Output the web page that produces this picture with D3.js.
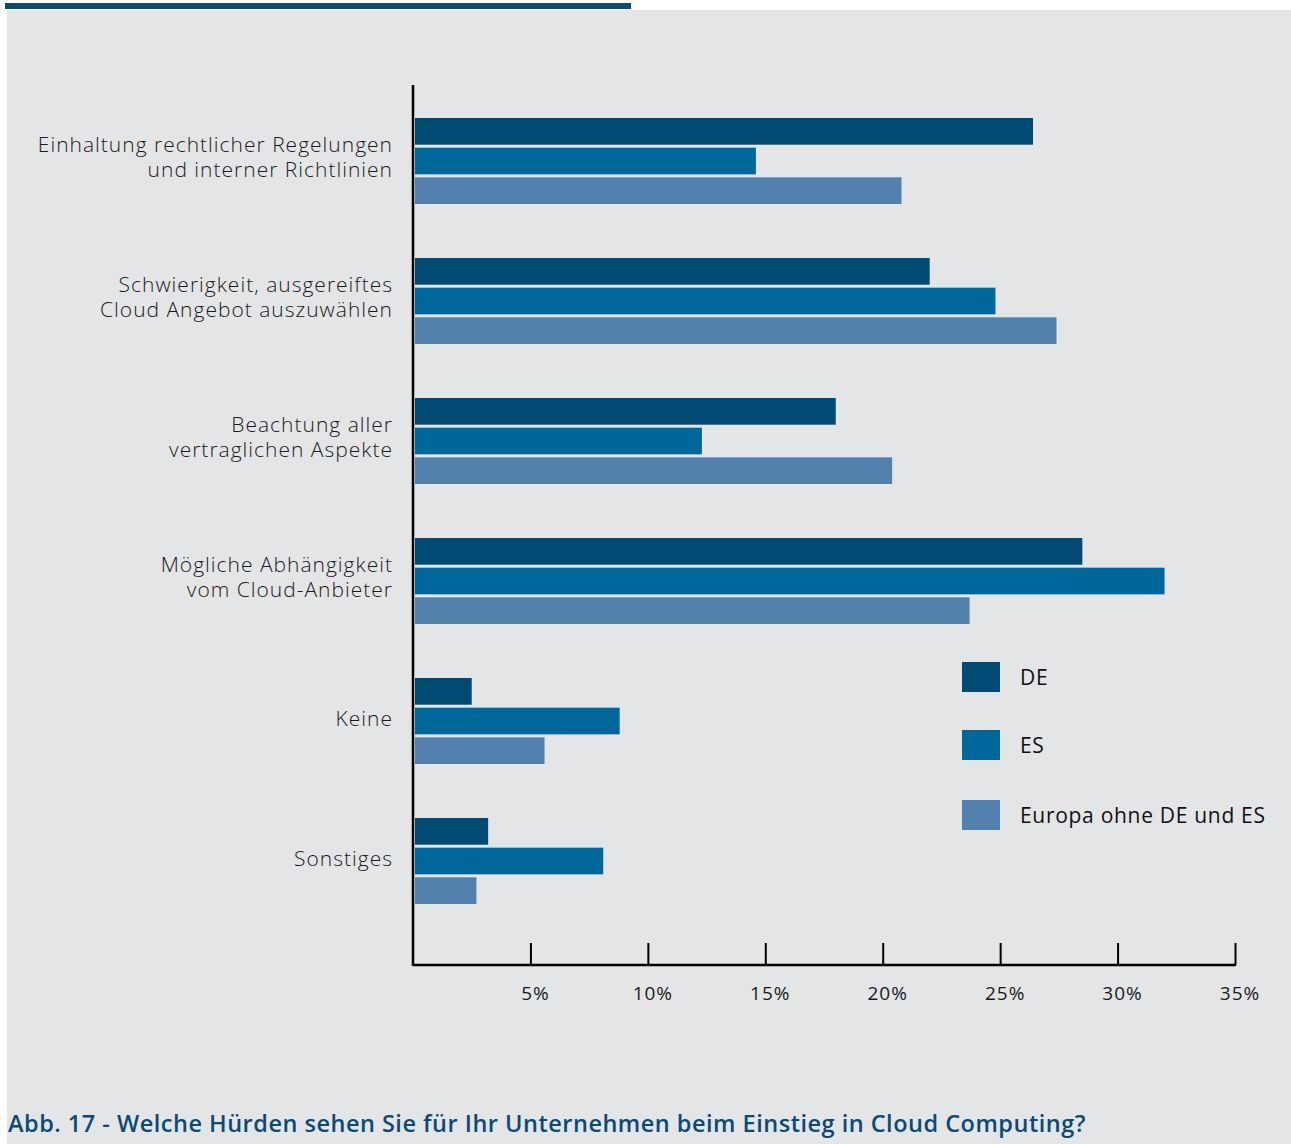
<!DOCTYPE html>
<html>
<head>
<meta charset="utf-8">
<script src="https://cdn.jsdelivr.net/npm/d3@7"></script>
<style>
  body { margin: 0; background: #fff; }
  svg { display: block; }
  .cat_label { font-family: "Open Sans", sans-serif; font-weight: 300; font-size: 21px; letter-spacing: 1px; fill: #1a1a1a; }
  .tick_label { font-family: "Open Sans", sans-serif; font-weight: 400; font-size: 19px; letter-spacing: 1px; fill: #1a1a1a; }
  .legend_label { font-family: "Open Sans", sans-serif; font-weight: 400; font-size: 21px; letter-spacing: 0.7px; fill: #111; }
  .caption { font-family: "Open Sans", sans-serif; font-weight: 600; font-size: 23.5px; letter-spacing: 0.5px; fill: #0b4a73; }
</style>
</head>
<body>
<script>
// categories (two-line labels split by "|")
const categories = [
	"Einhaltung rechtlicher Regelungen|und interner Richtlinien",
	"Schwierigkeit, ausgereiftes|Cloud Angebot auszuwählen",
	"Beachtung aller|vertraglichen Aspekte",
	"Mögliche Abhängigkeit|vom Cloud-Anbieter",
	"Keine",
	"Sonstiges"
];

const seriesNames = ["DE", "ES", "Europa ohne DE und ES"];
const seriesColors = ["#004a73", "#00679b", "#5281ae"];

// percent values per series
const valuesDE = [26.4, 22.0, 18.0, 28.5, 2.5, 3.2];
const valuesES = [14.6, 24.8, 12.3, 32.0, 8.8, 8.1];
const valuesEU = [20.8, 27.4, 20.4, 23.7, 5.6, 2.7];

const tickValues = [5, 10, 15, 20, 25, 30, 35];
const caption = "Abb. 17 - Welche Hürden sehen Sie für Ihr Unternehmen beim Einstieg in Cloud Computing?";

const W = 1291, H = 1144;

let svg = d3.select("body").append("svg")
	.attr("width", W)
	.attr("height", H);

// grey panel + top accent bar
svg.append("rect")
	.attr("x", 7).attr("y", 10)
	.attr("width", W - 7).attr("height", H - 10)
	.attr("fill", "#e4e5e7");
svg.append("rect")
	.attr("x", 5).attr("y", 3)
	.attr("width", 626).attr("height", 6)
	.attr("fill", "#0b4a73");

let x0 = 413, x1 = 1235, axisY = 965;

let xScale = d3.scaleLinear().domain([0, 35]).range([x0, x1]);

let yScale = d3.scaleBand()
	.domain(categories)
	.range([91, 931])
	.paddingInner(0.386)
	.paddingOuter(0.193);

let ySub = d3.scaleBand()
	.domain(seriesNames)
	.range([0, yScale.bandwidth()])
	.paddingInner(0.1);

let allValues = [valuesDE, valuesES, valuesEU];
let rows = [];
categories.forEach(function(c, i) {
	seriesNames.forEach(function(s, j) {
		rows.push({cat: c, series: s, value: allValues[j][i], color: seriesColors[j]});
	});
});

// bars
svg.selectAll(".bar")
	.data(rows)
	.enter().append("rect")
		.attr("class", "bar")
		.attr("x", xScale(0) + 2)
		.attr("y", function(d) { return yScale(d.cat) + ySub(d.series); })
		.attr("width", function(d) { return xScale(d.value) - xScale(0) - 2; })
		.attr("height", ySub.bandwidth())
		.attr("fill", function(d) { return d.color; });

// category labels
let labels = svg.selectAll(".cat_label")
	.data(categories)
	.enter().append("text")
		.attr("class", "cat_label")
		.attr("text-anchor", "end");

labels.each(function(c) {
	let lines = c.split("|");
	let shift = lines.length > 1 ? -4 : -2;
	let cy = yScale(c) + yScale.bandwidth() / 2 + shift;
	let t = d3.select(this);
	lines.forEach(function(line, k) {
		t.append("tspan")
			.attr("x", 393)
			.attr("y", cy + (k - (lines.length - 1) / 2) * 25)
			.attr("dy", "0.35em")
			.text(line);
	});
});

// x axis
let xAxis = svg.append("g")
	.attr("transform", "translate(0," + axisY + ")")
	.call(d3.axisTop(xScale)
		.tickValues(tickValues)
		.tickSize(22)
		.tickFormat(""));
xAxis.select(".domain").remove();
xAxis.selectAll(".tick line").attr("stroke", "#000").attr("stroke-width", 2);

svg.append("line")
	.attr("x1", x0).attr("x2", x1 + 1)
	.attr("y1", axisY).attr("y2", axisY)
	.attr("stroke", "#000").attr("stroke-width", 2.5);

// y axis line
svg.append("line")
	.attr("x1", x0).attr("x2", x0)
	.attr("y1", 85).attr("y2", axisY + 1)
	.attr("stroke", "#000").attr("stroke-width", 2.5);

svg.selectAll(".tick_label")
	.data(tickValues)
	.enter().append("text")
		.attr("class", "tick_label")
		.attr("x", function(d) { return xScale(d) + 5; })
		.attr("y", 1000)
		.attr("text-anchor", "middle")
		.text(function(d) { return d + "%"; });

// legend
let legendY = [662, 730, 800];
let legend = svg.selectAll(".legend")
	.data(seriesNames)
	.enter().append("g")
		.attr("transform", function(d, i) { return "translate(962," + legendY[i] + ")"; });

legend.append("rect")
	.attr("width", 38).attr("height", 30)
	.attr("fill", function(d, i) { return seriesColors[i]; });

legend.append("text")
	.attr("class", "legend_label")
	.attr("x", 58).attr("y", 16)
	.attr("dy", "0.35em")
	.text(function(d) { return d; });

// caption
svg.append("text")
	.attr("class", "caption")
	.attr("x", 8).attr("y", 1132)
	.text(caption);
</script>
</body>
</html>
